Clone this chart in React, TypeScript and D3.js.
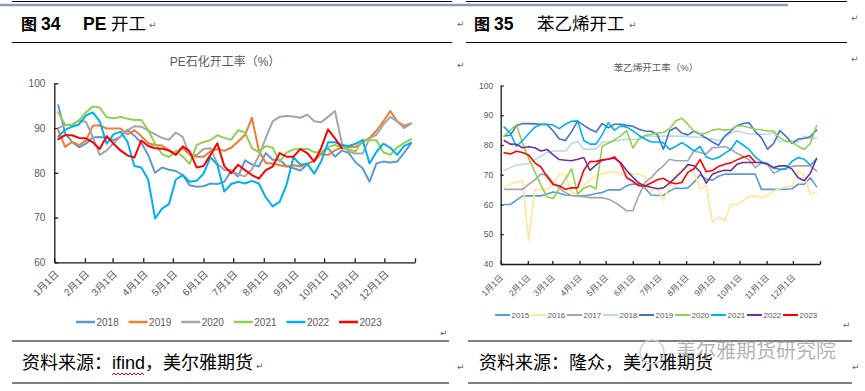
import React, { useRef, useEffect } from "react";
import * as d3 from "d3";

// PE 石化开工率，周度 (%)
const peYears = ["2018", "2019", "2020", "2021", "2022", "2023"];
const pe2018 = [95.1, 88.8, 86.9, 85.7, 86.5, 87.9, 88.0, 87.8, 87.3, 88.1, 89.6, 88.3, 86.7, 84.0, 80.0, 81.2, 80.7, 80.4, 79.5, 77.2, 76.9, 77.0, 77.6, 77.5, 78.0, 80.4, 79.2, 82.8, 81.9, 81.4, 84.4, 82.9, 82.9, 81.5, 81.0, 80.5, 81.9, 82.8, 84.5, 85.5, 83.6, 85.0, 84.4, 82.3, 81.0, 78.0, 82.1, 82.5, 82.3, 82.5, 84.5, 86.5];
const pe2019 = [89.5, 85.8, 86.9, 86.2, 87.2, 90.5, 90.6, 89.9, 89.9, 89.9, 88.6, 89.5, 88.2, 86.6, 86.2, 86.1, 85.0, 84.3, 85.6, 84.0, 83.6, 83.6, 84.8, 85.3, 84.9, 85.6, 87.0, 88.5, 92.3, 85.0, 82.2, 82.1, 81.7, 81.4, 81.7, 81.4, 82.1, 82.6, 84.2, 84.0, 85.0, 85.7, 85.7, 85.8, 86.8, 87.8, 89.4, 91.5, 93.8, 91.5, 90.5, 91.0];
const pe2020 = [90.0, 90.7, 90.8, 91.7, 91.4, 88.0, 84.0, 85.0, 86.6, 88.1, 89.5, 90.4, 90.3, 89.4, 88.6, 87.8, 87.4, 89.0, 88.0, 84.0, 84.0, 85.3, 85.5, 82.0, 80.6, 80.6, 79.6, 79.2, 80.8, 83.8, 87.8, 91.5, 92.5, 92.7, 92.6, 92.3, 93.0, 91.5, 91.3, 92.5, 93.8, 86.6, 84.7, 84.3, 84.3, 87.7, 88.5, 90.8, 92.5, 91.5, 90.0, 91.0];
const pe2021 = [93.5, 90.8, 90.5, 91.7, 93.5, 94.8, 94.6, 92.4, 92.2, 92.5, 92.1, 91.8, 91.8, 89.5, 86.5, 84.2, 83.5, 84.9, 83.6, 82.0, 86.2, 86.9, 87.3, 88.4, 87.8, 87.4, 89.5, 89.0, 85.5, 84.6, 86.0, 85.6, 82.5, 84.5, 85.2, 85.3, 85.4, 84.6, 84.6, 85.8, 86.2, 85.6, 85.2, 84.8, 87.3, 87.3, 87.3, 84.6, 84.0, 85.7, 86.7, 87.5];
const pe2022 = [88.1, 89.6, 90.3, 90.8, 92.8, 93.5, 91.5, 86.5, 88.6, 89.2, 87.0, 81.5, 81.2, 78.5, 69.8, 72.0, 73.0, 78.5, 79.5, 78.0, 78.2, 79.8, 83.5, 81.8, 75.8, 77.5, 78.0, 77.6, 78.2, 77.6, 74.5, 72.5, 73.5, 77.3, 83.5, 81.8, 82.0, 79.8, 82.5, 86.8, 86.8, 86.2, 86.0, 86.5, 87.3, 82.1, 84.7, 86.5, 85.6, 84.0, 86.0, 86.7];
const pe2023 = [87.5, 88.4, 88.4, 87.8, 87.7, 86.8, 85.3, 88.2, 86.5, 85.0, 83.9, 83.4, 87.2, 86.0, 85.5, 85.4, 85.0, 84.0, 85.9, 84.8, 81.2, 81.5, 84.0, 86.6, 81.5, 79.9, 81.8, 80.6, 79.5, 78.7, 80.6, 81.4, 84.4, 83.6, 83.6, 85.3, 84.4, 82.5, 85.5, 89.7, 87.7, 85.5];
const peColors = ["#5B9BD5", "#ED7D31", "#A5A5A5", "#92D050", "#00B0F0", "#FF0000"];
const peTicks = [60, 70, 80, 90, 100];

// 苯乙烯开工率，周度 (%)
const smYears = ["2015", "2016", "2017", "2018", "2019", "2020", "2021", "2022", "2023"];
const sm2015 = [60.0, 60.0, 61.5, 62.9, 62.9, 62.9, 62.9, 63.5, 64.2, 63.8, 63.2, 63.0, 62.9, 62.9, 63.2, 63.7, 64.0, 64.9, 64.9, 64.9, 66.3, 66.9, 66.7, 65.5, 63.2, 63.0, 63.1, 64.5, 65.5, 65.4, 65.6, 67.5, 70.0, 68.5, 68.2, 69.5, 70.2, 70.2, 70.2, 70.2, 70.2, 70.2, 65.1, 65.1, 65.1, 65.1, 65.1, 65.3, 66.8, 66.8, 69.0, 66.0];
const sm2016 = [66.0, 66.8, 67.5, 68.0, 48.0, 65.1, 65.1, 65.1, 66.5, 70.2, 70.0, 64.0, 63.5, 66.5, 68.2, 69.6, 70.4, 70.8, 71.2, 70.2, 70.2, 70.2, 70.2, 69.5, 64.5, 65.7, 61.5, 66.0, 70.0, 71.7, 72.5, 71.0, 65.1, 66.5, 54.0, 55.8, 54.5, 60.0, 59.9, 61.2, 62.7, 62.9, 62.3, 63.2, 64.5, 65.3, 66.0, 66.2, 71.0, 70.0, 63.5, 64.2];
const sm2017 = [65.1, 65.1, 65.1, 65.1, 66.8, 68.3, 70.2, 70.0, 67.3, 65.5, 64.0, 63.0, 62.8, 62.6, 62.3, 62.3, 62.3, 61.8, 60.8, 59.4, 57.9, 57.9, 63.0, 67.5, 69.0, 71.3, 73.0, 75.2, 74.7, 74.7, 74.7, 78.0, 77.5, 77.0, 79.1, 79.2, 79.5, 78.6, 77.2, 76.2, 75.0, 72.4, 74.0, 73.5, 70.5, 71.5, 72.2, 72.8, 73.0, 73.0, 73.0, 71.3];
const sm2018 = [71.5, 72.4, 73.3, 73.5, 73.8, 75.0, 76.3, 77.5, 78.0, 78.0, 78.0, 80.5, 81.2, 78.6, 78.6, 78.6, 81.0, 81.0, 81.3, 81.7, 81.9, 81.9, 82.0, 82.8, 83.0, 82.8, 83.0, 83.0, 83.0, 83.0, 82.8, 82.7, 82.6, 82.3, 81.9, 81.4, 82.5, 84.0, 84.7, 84.2, 83.8, 83.6, 83.6, 83.6, 84.2, 81.0, 81.4, 81.4, 81.0, 83.0, 81.9, 82.5];
const sm2019 = [83.0, 83.3, 86.5, 87.2, 87.2, 87.1, 87.0, 86.9, 84.7, 82.0, 81.5, 84.5, 88.0, 86.6, 85.3, 84.4, 87.2, 85.8, 87.0, 87.0, 86.6, 86.3, 85.3, 84.7, 84.6, 83.5, 78.6, 84.7, 85.9, 84.0, 83.4, 84.7, 83.6, 82.3, 81.0, 79.9, 83.0, 84.7, 86.5, 87.2, 87.5, 84.5, 82.5, 78.6, 80.5, 84.8, 83.0, 80.5, 82.0, 82.2, 82.8, 85.0];
const sm2020 = [83.0, 85.0, 86.8, 80.5, 75.5, 71.0, 66.5, 62.5, 62.0, 65.5, 68.5, 72.0, 63.5, 65.5, 66.3, 65.3, 79.7, 80.6, 81.7, 83.0, 84.8, 79.0, 82.0, 83.2, 83.6, 84.0, 84.2, 85.5, 88.1, 89.0, 87.0, 84.5, 83.6, 84.0, 85.0, 85.4, 85.0, 85.2, 86.4, 86.4, 85.9, 85.3, 85.1, 84.7, 84.7, 82.5, 81.2, 80.9, 79.6, 78.5, 80.5, 86.5];
const sm2021 = [86.0, 84.0, 79.5, 81.5, 83.8, 86.0, 86.9, 87.0, 86.7, 85.5, 87.0, 88.0, 88.1, 81.5, 80.3, 80.3, 83.5, 87.5, 85.0, 86.4, 86.0, 84.8, 83.2, 82.0, 81.0, 81.0, 80.8, 78.5, 79.5, 80.8, 79.5, 78.0, 79.5, 76.0, 75.2, 75.8, 77.2, 78.5, 81.5, 80.0, 78.5, 76.0, 74.3, 73.8, 72.2, 71.9, 71.9, 74.5, 75.8, 75.2, 73.2, 75.3];
const sm2022 = [81.5, 80.3, 80.2, 79.1, 79.4, 79.1, 78.0, 78.5, 76.7, 75.1, 74.9, 74.7, 75.2, 75.8, 71.5, 73.3, 74.9, 75.3, 75.6, 74.1, 71.4, 69.2, 67.2, 66.2, 65.8, 65.3, 65.6, 67.2, 69.1, 71.1, 73.4, 73.0, 71.0, 67.2, 70.2, 71.0, 71.5, 71.4, 73.5, 74.1, 74.1, 74.1, 74.1, 73.5, 72.4, 73.0, 73.0, 71.9, 69.0, 68.0, 70.5, 75.5];
const sm2023 = [77.4, 77.0, 77.9, 77.5, 76.6, 74.0, 72.6, 69.3, 66.7, 66.3, 65.1, 65.6, 65.6, 71.5, 74.4, 74.5, 75.0, 75.2, 76.0, 73.8, 69.0, 67.8, 66.3, 66.2, 67.2, 68.3, 68.8, 67.5, 67.0, 67.4, 70.8, 72.0, 75.1, 71.0, 71.4, 72.8, 73.5, 74.0, 75.0, 75.9, 76.5, 74.2];
const smColors = ["#5B9BD5", "#FFE699", "#A5A5A5", "#BDD7EE", "#4472C4", "#92D050", "#00B0F0", "#7030A0", "#FF0000"];
const smTicks = [40, 50, 60, 70, 80, 90, 100];

const monthLabels = ["1月1日", "2月1日", "3月1日", "4月1日", "5月1日", "6月1日", "7月1日", "8月1日", "9月1日", "10月1日", "11月1日", "12月1日"];

// weekly readings, first one a few days into January
const FIRST_DAY = 4;
const weekDate = (i: number) => new Date(Date.UTC(2023, 0, 1 + FIRST_DAY + 7 * i));
const monthDates = d3.range(13).map((m) => new Date(Date.UTC(2023, m, 1)));

const FONT = "'Liberation Sans', 'Noto Sans CJK SC', sans-serif";
const CJK = "'Noto Sans CJK SC', sans-serif";

function drawChart(root: any, c: any) {
  const g = root.append("g");
  const x = d3.scaleUtc().domain([monthDates[0], monthDates[12]]).range([c.x0, c.x1]);
  const y = d3.scaleLinear().domain(c.yDomain).range([c.y0, c.y1]);

  g.append("text")
    .attr("x", c.titleX)
    .attr("y", c.titleY)
    .attr("text-anchor", "middle")
    .attr("font-family", FONT)
    .attr("font-size", c.titleSize)
    .attr("fill", "#595959")
    .text(c.title);

  const yAxis = g.append("g")
    .attr("transform", `translate(${c.x0},0)`)
    .call(d3.axisLeft(y).tickValues(c.yTicks).tickSizeInner(-c.tick).tickSizeOuter(0).tickPadding(c.yPad).tickFormat(d3.format("d")));
  const xAxis = g.append("g")
    .attr("transform", `translate(0,${c.y0})`)
    .call(d3.axisBottom(x).tickValues(monthDates).tickSizeInner(-c.tick).tickSizeOuter(0)
      .tickFormat((d: any, i: number) => monthLabels[i] ?? ""));

  [yAxis, xAxis].forEach((a) => {
    a.select(".domain").attr("stroke", "#1a1a1a").attr("stroke-width", 1.3);
    a.selectAll(".tick line").attr("stroke", "#1a1a1a").attr("stroke-width", 1.3);
    a.selectAll("text").attr("fill", "#595959").attr("font-family", FONT).attr("font-size", c.axisSize);
  });
  xAxis.selectAll(".tick text")
    .attr("text-anchor", "end")
    .attr("y", 0)
    .attr("dy", "0.35em")
    .attr("transform", `translate(${c.lblDx},${c.lblDy}) rotate(-45)`);

  const line = d3.line<number>()
    .x((_, i) => x(weekDate(i)))
    .y((d) => y(d));

  c.series.forEach((s: number[], k: number) => {
    g.append("path")
      .attr("d", line(s))
      .attr("fill", "none")
      .attr("stroke", c.colors[k])
      .attr("stroke-width", c.lineW)
      .attr("stroke-linejoin", "round")
      .attr("stroke-linecap", "round");
  });

  // legend
  c.names.forEach((name: string, k: number) => {
    const lx = c.legX + k * c.legStep;
    g.append("line")
      .attr("x1", lx).attr("x2", lx + c.legLine)
      .attr("y1", c.legY).attr("y2", c.legY)
      .attr("stroke", c.colors[k])
      .attr("stroke-width", c.lineW + 0.5);
    g.append("text")
      .attr("x", lx + c.legLine + 1.5)
      .attr("y", c.legY)
      .attr("dy", "0.35em")
      .attr("font-family", FONT)
      .attr("font-size", c.legSize)
      .attr("fill", "#595959")
      .text(name);
  });
}

const marks = [
  [149, 28], [457, 27], [629, 28], [851, 21], [851, 62], [457, 68],
  [440, 336], [843, 328], [256, 369], [457, 370], [852, 370],
];

const App = () => {
  const chartsRef = useRef<SVGGElement>(null);

  useEffect(() => {
    const root = d3.select(chartsRef.current);
    root.selectAll("*").remove();

    drawChart(root, {
      x0: 54.3, x1: 415, y0: 262.3, y1: 83.3, yDomain: [60, 100], yTicks: peTicks,
      series: [pe2018, pe2019, pe2020, pe2021, pe2022, pe2023], colors: peColors, names: peYears,
      lineW: 2, tick: 4, yPad: 9, axisSize: 10, lblDx: 2, lblDy: 10,
      legX: 76, legY: 322, legStep: 52.6, legLine: 19, legSize: 10,
      title: "PE石化开工率（%）", titleX: 225, titleY: 66, titleSize: 12,
    });

    drawChart(root, {
      x0: 500.7, x1: 820, y0: 264, y1: 85.5, yDomain: [40, 100], yTicks: smTicks,
      series: [sm2015, sm2016, sm2017, sm2018, sm2019, sm2020, sm2021, sm2022, sm2023], colors: smColors, names: smYears,
      lineW: 1.6, tick: 3, yPad: 7.5, axisSize: 8.5, lblDx: 0.5, lblDy: 12,
      legX: 495, legY: 315, legStep: 36, legLine: 15, legSize: 8,
      title: "苯乙烯开工率（%）", titleX: 656, titleY: 71, titleSize: 9.5,
    });
  }, []);

  // red spell-check squiggle under "ifind"
  const squiggle = d3.range(0, 34, 2).map((dx, i) => `${i ? "L" : "M"}${112 + dx},${i % 2 ? 373 : 375}`).join("");

  return (
    <svg width={865} height={391} style={{ position: "absolute", left: 0, top: 0, background: "#fff" }}>
      <line x1={12} x2={452} y1={1.5} y2={1.5} stroke="#000" strokeWidth={1.2} />
      <line x1={466} x2={847} y1={1.5} y2={1.5} stroke="#000" strokeWidth={1.2} />
      <line x1={0} x2={788} y1={5} y2={5} stroke="#8E9BB5" strokeWidth={2.5} />

      <text y={30} fill="#000">
        <tspan x={21} fontSize={16} fontFamily={CJK} fontWeight={700}>图</tspan>
        <tspan x={41} fontSize={17.5} fontFamily="'Liberation Sans'" fontWeight={700}>34</tspan>
        <tspan x={83} fontSize={17.5} fontFamily="'Liberation Sans'" fontWeight={700}>PE</tspan>
        <tspan x={111} fontSize={17.5} fontFamily={CJK}>开工</tspan>
      </text>
      <text y={30} fill="#000">
        <tspan x={474} fontSize={16} fontFamily={CJK} fontWeight={700}>图</tspan>
        <tspan x={494} fontSize={17.5} fontFamily="'Liberation Sans'" fontWeight={700}>35</tspan>
        <tspan x={537} fontSize={17.5} fontFamily={CJK}>苯乙烯开工</tspan>
      </text>
      <line x1={12} x2={452} y1={42.5} y2={42.5} stroke="#000" strokeWidth={1.2} />
      <line x1={466} x2={847} y1={42.5} y2={42.5} stroke="#000" strokeWidth={1.2} />

      <g ref={chartsRef} />

      <line x1={12} x2={449} y1={341} y2={341} stroke="#000" strokeWidth={1.2} />
      <line x1={468} x2={852} y1={341} y2={341} stroke="#000" strokeWidth={1.2} />
      <line x1={12} x2={449} y1={383} y2={383} stroke="#000" strokeWidth={1.2} />
      <line x1={468} x2={852} y1={383} y2={383} stroke="#000" strokeWidth={1.2} />

      <text x={22} y={369} fontSize={18} fontFamily={FONT} fill="#000">资料来源：ifind，美尔雅期货</text>
      <path d={squiggle} fill="none" stroke="#e00000" strokeWidth={1} />
      <text x={479} y={369} fontSize={18} fontFamily={FONT} fill="#000">资料来源：隆众，美尔雅期货</text>

      {/* watermark drawn over the footer, as in the source page */}
      <circle cx={652} cy={352} r={12} fill="none" stroke="#cfcfcf" strokeWidth={1.5} />
      <text x={676} y={358} fontSize={20} fontFamily={CJK} fill="#a6a6a6" fillOpacity={0.85}>美尔雅期货研究院</text>

      {marks.map(([mx, my], i) => (
        <text key={i} x={mx} y={my} fontSize={9} fontFamily="'DejaVu Sans'" fill="#666">↵</text>
      ))}
    </svg>
  );
};

export default App;
